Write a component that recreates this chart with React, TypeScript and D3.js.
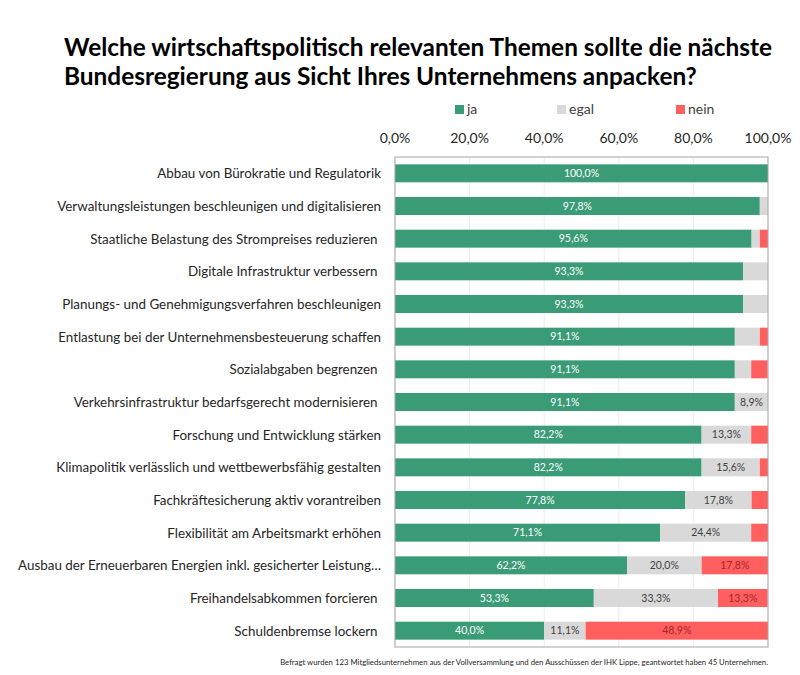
import React from "react";
import * as d3 from "d3";

const categories = [
  "Abbau von Bürokratie und Regulatorik",
  "Verwaltungsleistungen beschleunigen und digitalisieren",
  "Staatliche Belastung des Strompreises reduzieren ",
  "Digitale Infrastruktur verbessern ",
  "Planungs- und Genehmigungsverfahren beschleunigen",
  "Entlastung bei der Unternehmensbesteuerung schaffen",
  "Sozialabgaben begrenzen ",
  "Verkehrsinfrastruktur bedarfsgerecht modernisieren ",
  "Forschung und Entwicklung stärken",
  "Klimapolitik verlässlich und wettbewerbsfähig gestalten",
  "Fachkräftesicherung aktiv vorantreiben",
  "Flexibilität am Arbeitsmarkt erhöhen",
  "Ausbau der Erneuerbaren Energien inkl. gesicherter Leistung…",
  "Freihandelsabkommen forcieren ",
  "Schuldenbremse lockern ",
];

const ja = [100.0, 97.8, 95.6, 93.3, 93.3, 91.1, 91.1, 91.1, 82.2, 82.2, 77.8, 71.1, 62.2, 53.3, 40.0];
const egal = [0.0, 2.2, 2.2, 6.7, 6.7, 6.7, 4.4, 8.9, 13.3, 15.6, 17.8, 24.4, 20.0, 33.3, 11.1];
const nein = [0.0, 0.0, 2.2, 0.0, 0.0, 2.2, 4.4, 0.0, 4.5, 2.2, 4.4, 4.5, 17.8, 13.3, 48.9];

const seriesNames = ["ja", "egal", "nein"];
const tickValues = [0, 20, 40, 60, 80, 100];

const title1 = "Welche wirtschaftspolitisch relevanten Themen sollte die nächste";
const title2 = "Bundesregierung aus Sicht Ihres Unternehmens anpacken?";
const footnote =
  "Befragt wurden 123 Mitgliedsunternehmen aus der Vollversammlung und den Ausschüssen der IHK Lippe, geantwortet haben 45 Unternehmen.";

const COLORS = ["#3a9b77", "#d9d9d9", "#ff5f5f"];
const LABEL_COLORS = ["#ffffff", "#404040", "#a5262a"];
const FONT = "Lato, 'Open Sans', sans-serif";

const fmt = (v: number) => v.toFixed(1).replace(".", ",") + "%";

export default function App() {
  const W = 800;
  const H = 675;
  const left = 395;
  const right = 768;
  const top = 157;
  const bottom = 647;

  const x = d3.scaleLinear().domain([0, 100]).range([left, right]);
  const y = d3
    .scaleBand<string>()
    .domain(categories)
    .range([top, bottom])
    .paddingInner(0.45)
    .paddingOuter(0.225);

  const rows = categories.map((c, i) => ({ c, vals: [ja[i], egal[i], nein[i]] }));
  const stacked = rows.map((r) => {
    let acc = 0;
    return r.vals.map((v, k) => {
      const s = { x0: acc, x1: acc + v, v, k };
      acc += v;
      return s;
    });
  });

  const legendX = [455, 557, 676];

  return (
    <svg
      width={W}
      height={H}
      style={{ position: "absolute", left: 0, top: 0, background: "#fff" }}
      fontFamily={FONT}
    >
      <rect x={0} y={0} width={W} height={H} fill="#fff" />
      {/* Title */}
      <text x={64} y={56} fontSize={24.4} fontWeight={700} fill="#000">
        {title1}
      </text>
      <text x={64} y={85} fontSize={24.4} fontWeight={700} fill="#000">
        {title2}
      </text>

      {/* Legend */}
      {seriesNames.map((s, k) => (
        <g key={s}>
          <rect x={legendX[k]} y={105} width={9} height={9} fill={COLORS[k]} />
          <text x={legendX[k] + 12} y={114} fontSize={14} fill="#404040">
            {s}
          </text>
        </g>
      ))}

      {/* Axis tick labels */}
      {tickValues.map((t) => (
        <text key={t} x={x(t)} y={143} fontSize={14} textAnchor="middle" fill="#262626">
          {fmt(t)}
        </text>
      ))}

      {/* Gridlines */}
      {tickValues.map((t) => (
        <line key={"g" + t} x1={x(t)} x2={x(t)} y1={top} y2={bottom} stroke="#ececec" strokeWidth={1} />
      ))}

      {/* Bars */}
      {stacked.map((segs, i) =>
        segs.map((s) =>
          s.v > 0 ? (
            <rect
              key={i + "-" + s.k}
              x={x(s.x0)}
              y={y(categories[i])!}
              width={Math.max(0, x(Math.min(100, s.x1)) - x(s.x0))}
              height={y.bandwidth()}
              fill={COLORS[s.k]}
            />
          ) : null
        )
      )}

      {/* Bar labels */}
      {stacked.map((segs, i) =>
        segs.map((s) =>
          s.v >= 8 ? (
            <text
              key={"l" + i + "-" + s.k}
              x={(x(s.x0) + x(Math.min(100, s.x1))) / 2}
              y={y(categories[i])! + y.bandwidth() / 2 + 3.8}
              fontSize={10.5}
              textAnchor="middle"
              fill={LABEL_COLORS[s.k]}
            >
              {fmt(s.v)}
            </text>
          ) : null
        )
      )}

      {/* Plot border */}
      <rect x={left} y={top} width={right - left} height={bottom - top} fill="none" stroke="#a6a6a6" strokeWidth={1} />

      {/* Category labels */}
      {categories.map((c) => (
        <text
          key={c}
          x={381}
          y={y(c)! + y.bandwidth() / 2 + 5}
          fontSize={13.4}
          textAnchor="end"
          fill="#262626"
          style={{ whiteSpace: "pre" }}
        >
          {c}
        </text>
      ))}

      {/* Footnote */}
      <text x={768} y={665} fontSize={7.75} textAnchor="end" fill="#262626">
        {footnote}
      </text>
    </svg>
  );
}
